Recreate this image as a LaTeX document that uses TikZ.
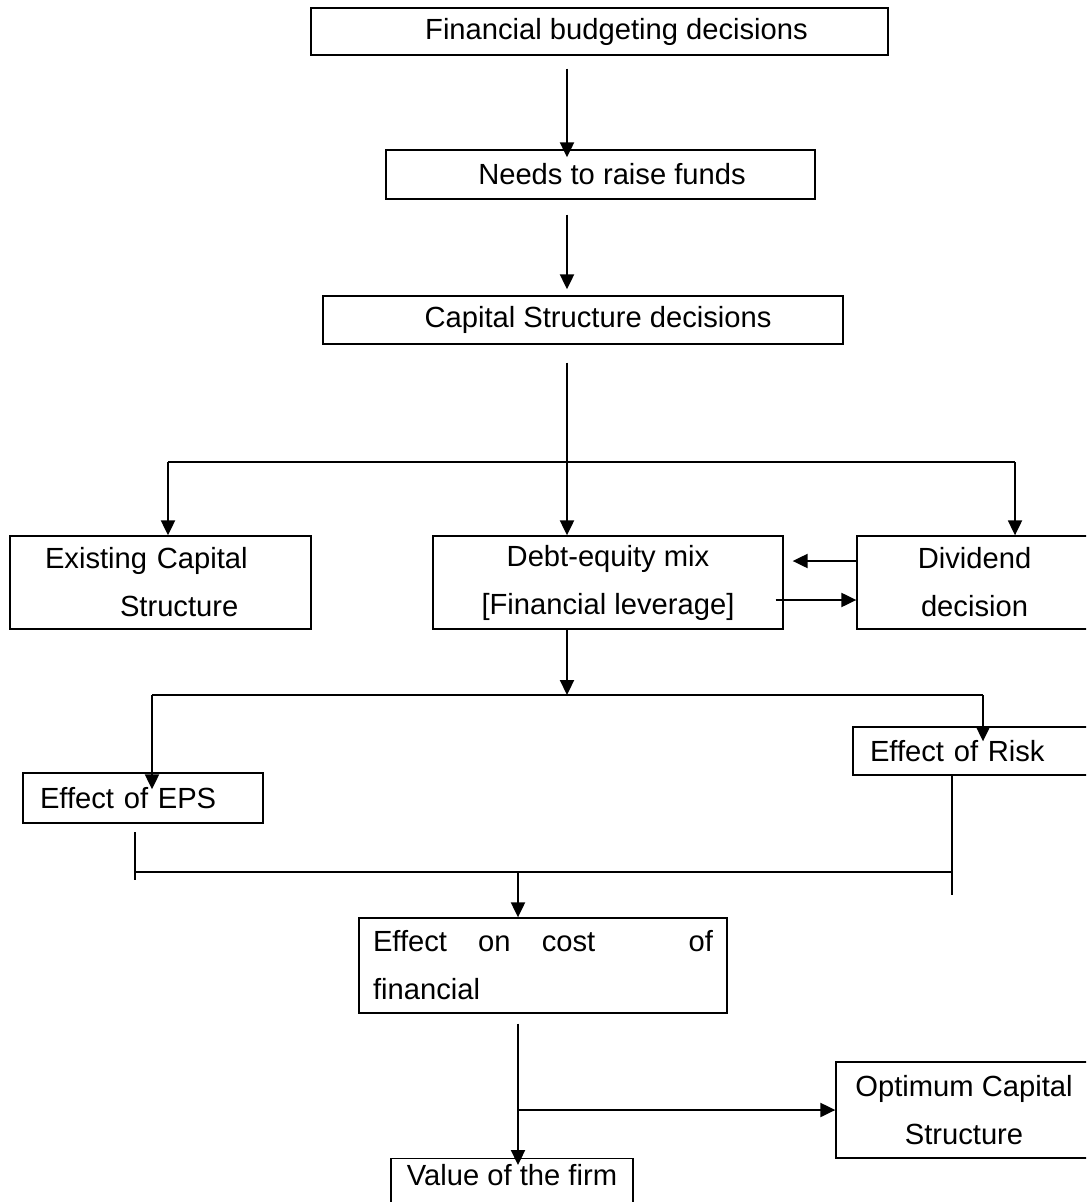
\documentclass[tikz,border=0pt]{standalone}
\usepackage{fontspec}
\setmainfont{Liberation Sans}
\usetikzlibrary{arrows.meta,calc}

\begin{document}
\begin{tikzpicture}[x=0.02cm,y=-0.02cm,
    font=\fontsize{16.6}{27.3}\selectfont,
    box/.style={draw,line width=0.8pt,inner sep=0pt,align=center},
    leftbox/.style={box,align=left},
    line/.style={line width=1pt},
    arr/.style={line width=1pt,-{Triangle[width=8pt,length=8.5pt]}}]
    \useasboundingbox (0,0) rectangle (1086,1202);
    \clip (0,0) rectangle (1086,1202);
    % boxes
    \node[box,minimum width=11.54cm,minimum height=0.94cm] (fin) at (599.5,31.5) {\hspace*{0.68cm}Financial budgeting decisions};
    \node[box,minimum width=8.58cm,minimum height=0.98cm] (needs) at (600.5,174.5) {\hspace*{0.46cm}Needs to raise funds};
    \node[box,minimum width=10.4cm,minimum height=0.96cm] (cap) at (583,320) {\hspace*{0.6cm}Capital Structure decisions};
    \node[leftbox,minimum height=1.86cm,inner xsep=0.7cm,text width=4.62cm] (exist) at (160.5,582.5) {Existing Capital\\\hspace*{1.5cm}Structure};
    \node[box,minimum width=7cm,minimum height=1.86cm] (debt) at (608,582.5) {Debt-equity mix\\{}[Financial leverage]};
    \node[box,minimum width=4.7cm,minimum height=1.86cm] (div) at (974.5,582.5) {Dividend\\decision};
    \node[leftbox,minimum height=1cm,inner xsep=0.34cm,text width=4.12cm] (eps) at (143,798) {Effect of EPS};
    \node[leftbox,minimum height=0.96cm,inner xsep=0.34cm,text width=4.1cm] (risk) at (972.5,751) {Effect of Risk};
    \node[leftbox,minimum height=1.9cm,inner xsep=0.28cm,text width=6.8cm] (cost) at (543,965.5) {Effect\hfill on\hfill cost\hfill\hfill\hfill of\\financial};
    \node[box,minimum width=5.12cm,minimum height=1.92cm] (opt) at (964,1110) {Optimum Capital\\Structure};
    \node[box,anchor=north,minimum width=4.84cm,text height=0.54cm,text depth=1cm] (value) at (512,1158) {Value of the firm};
    % fork points
    \coordinate (top) at (567,0);
    \coordinate (fork) at (567,462);
    \coordinate (forkL) at (168,462);
    \coordinate (forkR) at (1015,462);
    \coordinate (fork2) at (567,695);
    \coordinate (fork2L) at (152,695);
    \coordinate (fork2R) at (983,695);
    \coordinate (joinL) at (135,872);
    \coordinate (join) at (518,872);
    \coordinate (joinR) at (952,872);
    \coordinate (split) at (518,1110);
    % connectors
    \draw[arr] ($(fin.south -| top)+(0,13)$) -- ($(needs.north -| top)+(0,8)$);
    \draw[arr] ($(needs.south -| top)+(0,15)$) -- ($(cap.north -| top)+(0,-6)$);
    \draw[line] ($(cap.south -| top)+(0,18)$) -- (fork);
    \draw[line] (forkL) -- (forkR);
    \draw[arr] (forkL) -- (forkL |- exist.north);
    \draw[arr] (fork) -- (fork |- debt.north);
    \draw[arr] (forkR) -- (forkR |- div.north);
    \draw[arr] ([yshift=0.43cm]div.west) -- ([xshift=0.18cm,yshift=0.43cm]debt.east);
    \draw[arr] ([xshift=-0.16cm,yshift=-0.35cm]debt.east) -- ([yshift=-0.35cm]div.west);
    \draw[arr] (debt.south -| fork2) -- (fork2);
    \draw[line] (fork2L) -- (fork2R);
    \draw[arr] (fork2L) -- ($(fork2L |- eps.north)+(0,17)$);
    \draw[arr] (fork2R) -- ($(fork2R |- risk.north)+(0,15)$);
    \draw[line] ($(joinL)+(0,-40)$) -- ($(joinL)+(0,8)$);
    \draw[line] (joinL) -- (joinR);
    \draw[line] (risk.south -| joinR) -- ($(joinR)+(0,23)$);
    \draw[arr] (join) -- (join |- cost.north);
    \draw[arr] ($(cost.south -| split)+(0,10)$) -- ($(value.north -| split)+(0,7)$);
    \draw[arr] (split) -- (opt.west);
\end{tikzpicture}
\end{document}
